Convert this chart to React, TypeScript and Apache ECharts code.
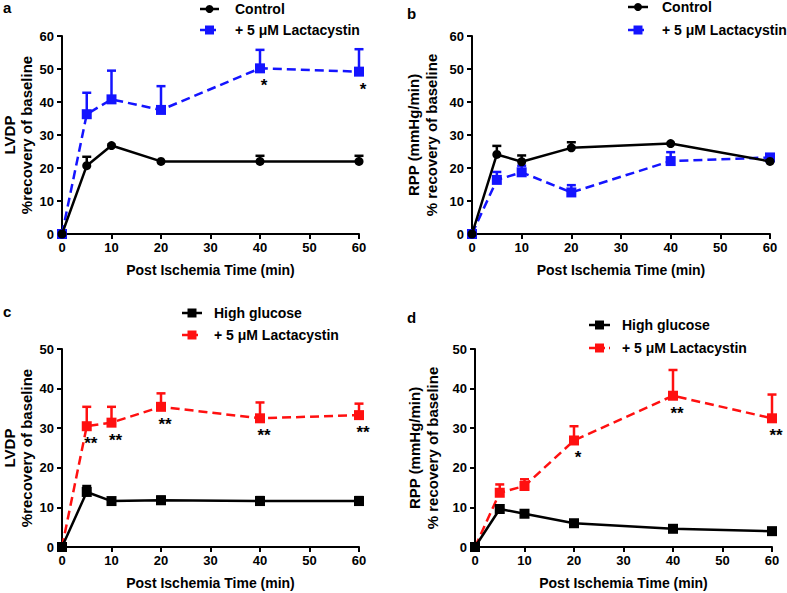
import React, { useEffect, useRef } from "react";
import * as echarts from "echarts";

const times = [0, 5, 10, 20, 40, 60];
const xTicks = [0, 10, 20, 30, 40, 50, 60];

// Panel a (LVDP, control)
const aControl = [0, 20.7, 26.8, 22.0, 22.0, 22.0];
const aControlUpper = [null, 23.4, null, null, 23.7, 23.7];
const aLact = [0, 36.3, 40.8, 37.6, 50.2, 49.2];
const aLactUpper = [null, 42.8, 49.5, 44.8, 55.8, 56.0];
const aSig = ["", "", "", "", "*", "*"];

// Panel b (RPP, control)
const bControl = [0, 24.1, 21.9, 26.1, 27.4, 22.0];
const bControlUpper = [null, 26.7, 23.8, 27.8, null, null];
const bLact = [0, 16.4, 18.7, 12.6, 22.1, 23.2];
const bLactUpper = [null, 18.8, 20.7, 14.8, 24.8, 24.0];
const bSig = ["", "", "", "", "", ""];

// Panel c (LVDP, high glucose)
const cHigh = [0, 13.9, 11.6, 11.8, 11.6, 11.6];
const cHighUpper = [null, 15.4, null, 12.7, 12.6, 12.6];
const cLact = [0, 30.5, 31.4, 35.4, 32.5, 33.3];
const cLactUpper = [null, 35.4, 35.4, 38.8, 36.5, 36.2];
const cSig = ["", "**", "**", "**", "**", "**"];

// Panel d (RPP, high glucose)
const dHigh = [0, 9.6, 8.4, 6.0, 4.6, 4.0];
const dHighUpper = [null, null, null, null, null, null];
const dLact = [0, 13.7, 15.4, 26.9, 38.2, 32.5];
const dLactUpper = [null, 15.8, 17.1, 30.5, 44.7, 38.5];
const dSig = ["", "", "", "*", "**", "**"];

const legendA = ["Control", "+ 5 \u03bcM Lactacystin"];
const legendC = ["High glucose", "+ 5 \u03bcM Lactacystin"];
const xTitle = "Post Ischemia Time (min)";
const yTitleLVDP = ["LVDP", "%recovery of baseline"];
const yTitleRPP = ["RPP (mmHg/min)", "% recovery of baseline"];

const BLUE = "#1414ff";
const RED = "#ff1010";
const BLACK = "#000000";
const FONT = "Liberation Sans, Arial, Helvetica, sans-serif";

type Panel = {
  grid: { left: number; top: number; width: number; height: number };
  yMax: number;
  s1: number[];
  s1Up: (number | null)[];
  s1Symbol: string;
  s1Name: string;
  s2: number[];
  s2Up: (number | null)[];
  s2Color: string;
  s2Name: string;
  sig: string[];
};

const panels: Panel[] = [
  {
    grid: { left: 62, top: 36, width: 297, height: 198 },
    yMax: 60,
    s1: aControl, s1Up: aControlUpper, s1Symbol: "circle", s1Name: legendA[0],
    s2: aLact, s2Up: aLactUpper, s2Color: BLUE, s2Name: legendA[1],
    sig: aSig,
  },
  {
    grid: { left: 472, top: 36, width: 298, height: 198 },
    yMax: 60,
    s1: bControl, s1Up: bControlUpper, s1Symbol: "circle", s1Name: legendA[0],
    s2: bLact, s2Up: bLactUpper, s2Color: BLUE, s2Name: legendA[1],
    sig: bSig,
  },
  {
    grid: { left: 62, top: 349, width: 297, height: 198 },
    yMax: 50,
    s1: cHigh, s1Up: cHighUpper, s1Symbol: "rect", s1Name: legendC[0],
    s2: cLact, s2Up: cLactUpper, s2Color: RED, s2Name: legendC[1],
    sig: cSig,
  },
  {
    grid: { left: 475, top: 349, width: 297, height: 198 },
    yMax: 50,
    s1: dHigh, s1Up: dHighUpper, s1Symbol: "rect", s1Name: legendC[0],
    s2: dLact, s2Up: dLactUpper, s2Color: RED, s2Name: legendC[1],
    sig: dSig,
  },
];

function errorSeries(idx: number, vals: number[], ups: (number | null)[], color: string) {
  const data = times
    .map((t, i) => (ups[i] == null ? null : [t, vals[i], ups[i] as number]))
    .filter((d) => d !== null);
  return {
    type: "custom",
    xAxisIndex: idx,
    yAxisIndex: idx,
    z: 1,
    silent: true,
    clip: false,
    encode: { x: 0, y: [1, 2] },
    data,
    renderItem: (params: any, api: any) => {
      const p = api.coord([api.value(0), api.value(1)]);
      const t = api.coord([api.value(0), api.value(2)]);
      const st = { stroke: color, lineWidth: 2.5 };
      return {
        type: "group",
        children: [
          { type: "line", shape: { x1: p[0], y1: p[1], x2: t[0], y2: t[1] }, style: st },
          { type: "line", shape: { x1: t[0] - 4.5, y1: t[1], x2: t[0] + 4.5, y2: t[1] }, style: st },
        ],
      };
    },
  };
}

function sigSeries(idx: number, vals: number[], sig: string[]) {
  return {
    type: "custom",
    xAxisIndex: idx,
    yAxisIndex: idx,
    z: 5,
    silent: true,
    clip: false,
    data: times.map((t, i) => [t, vals[i]]),
    renderItem: (params: any, api: any) => {
      const label = sig[params.dataIndex];
      if (!label) return null;
      const p = api.coord([api.value(0), api.value(1)]);
      return {
        type: "text",
        x: p[0] + 4,
        y: p[1] + 9,
        style: {
          text: label,
          fill: BLACK,
          font: `bold 17px ${FONT}`,
          align: "center",
          verticalAlign: "top",
        },
      };
    },
  };
}

function legendGraphics(x1: number, x2: number, tx: number, y1: number, y2: number, p: Panel) {
  const mid = (x1 + x2) / 2;
  const els: any[] = [];
  els.push({ type: "line", shape: { x1, y1, x2, y2: y1 }, style: { stroke: BLACK, lineWidth: 2.5 } });
  if (p.s1Symbol === "circle") {
    els.push({ type: "circle", shape: { cx: mid, cy: y1, r: 4 }, style: { fill: BLACK } });
  } else {
    els.push({ type: "rect", shape: { x: mid - 4.5, y: y1 - 4.5, width: 9, height: 9 }, style: { fill: BLACK } });
  }
  els.push({ type: "text", x: tx, y: y1, style: { text: p.s1Name, font: `bold 14px ${FONT}`, fill: BLACK, align: "left", verticalAlign: "middle" } });
  els.push({ type: "line", shape: { x1, y1: y2, x2, y2 }, style: { stroke: p.s2Color, lineWidth: 2.5, lineDash: [6, 4] } });
  els.push({ type: "rect", shape: { x: mid - 4.5, y: y2 - 4.5, width: 9, height: 9 }, style: { fill: p.s2Color } });
  els.push({ type: "text", x: tx, y: y2, style: { text: p.s2Name, font: `bold 14px ${FONT}`, fill: BLACK, align: "left", verticalAlign: "middle" } });
  return els;
}

function yTitle(cx1: number, cx2: number, cy: number, lines: string[]) {
  return [
    { type: "text", x: cx1, y: cy, rotation: Math.PI / 2, style: { text: lines[0], font: `bold 15px ${FONT}`, fill: BLACK, align: "center", verticalAlign: "middle" } },
    { type: "text", x: cx2, y: cy, rotation: Math.PI / 2, style: { text: lines[1], font: `bold 15px ${FONT}`, fill: BLACK, align: "center", verticalAlign: "middle" } },
  ];
}

function panelLabel(x: number, y: number, t: string) {
  return { type: "text", x, y, style: { text: t, font: `bold 15px ${FONT}`, fill: BLACK, align: "left", verticalAlign: "middle" } };
}

export default function App() {
  const ref = useRef<HTMLDivElement>(null);
  useEffect(() => {
    if (!ref.current) return;
    const chart = echarts.init(ref.current, null, { renderer: "svg" });

    const axisLine = { show: true, lineStyle: { color: BLACK, width: 2 } };
    const axisTick = { show: true, length: 5, inside: false, lineStyle: { color: BLACK, width: 2 } };
    const axisLabel = { color: BLACK, fontWeight: "bold", fontSize: 13, fontFamily: FONT };

    const xAxis = panels.map((p, i) => ({
      type: "value",
      gridIndex: i,
      min: xTicks[0],
      max: xTicks[xTicks.length - 1],
      interval: 10,
      axisLine,
      axisTick,
      axisLabel: { ...axisLabel, margin: 7 },
      splitLine: { show: false },
      name: xTitle,
      nameLocation: "middle",
      nameGap: 29,
      nameTextStyle: { color: BLACK, fontWeight: "bold", fontSize: 14, fontFamily: FONT },
    }));
    const yAxis = panels.map((p, i) => ({
      type: "value",
      gridIndex: i,
      min: 0,
      max: p.yMax,
      interval: 10,
      axisLine,
      axisTick,
      axisLabel: { ...axisLabel, margin: 8 },
      splitLine: { show: false },
    }));

    const series: any[] = [];
    panels.forEach((p, i) => {
      series.push(errorSeries(i, p.s1, p.s1Up, BLACK));
      series.push(errorSeries(i, p.s2, p.s2Up, p.s2Color));
      series.push({
        type: "line",
        name: p.s1Name,
        xAxisIndex: i,
        yAxisIndex: i,
        z: 3,
        clip: false,
        data: times.map((t, k) => [t, p.s1[k]]),
        symbol: p.s1Symbol,
        symbolSize: p.s1Symbol === "circle" ? 9 : 10,
        lineStyle: { color: BLACK, width: 2.5 },
        itemStyle: { color: BLACK },
      });
      series.push({
        type: "line",
        name: p.s2Name,
        xAxisIndex: i,
        yAxisIndex: i,
        z: 2,
        clip: false,
        data: times.map((t, k) => [t, p.s2[k]]),
        symbol: "rect",
        symbolSize: 10,
        lineStyle: { color: p.s2Color, width: 2.5, type: [9, 5] },
        itemStyle: { color: p.s2Color },
      });
      series.push(sigSeries(i, p.s2, p.sig));
    });

    const graphic: any[] = [
      ...legendGraphics(200, 219, 235, 9, 30, panels[0]),
      ...legendGraphics(628, 648, 662, 7, 30, panels[1]),
      ...legendGraphics(182, 202, 214, 313, 335, panels[2]),
      ...legendGraphics(589, 610, 622, 325, 348, panels[3]),
      ...yTitle(9, 26, 135, yTitleLVDP),
      ...yTitle(413, 431, 135, yTitleRPP),
      ...yTitle(9, 26, 448, yTitleLVDP),
      ...yTitle(414, 432, 448, yTitleRPP),
      panelLabel(3, 7, "a"),
      panelLabel(407, 13, "b"),
      panelLabel(3, 311, "c"),
      panelLabel(407, 317, "d"),
    ];

    chart.setOption({
      animation: false,
      backgroundColor: "#ffffff",
      grid: panels.map((p) => ({ ...p.grid, containLabel: false })),
      xAxis,
      yAxis,
      series,
      graphic,
    });
    return () => chart.dispose();
  }, []);
  return (
    <div
      ref={ref}
      style={{ position: "absolute", left: 0, top: 0, width: 787, height: 593 }}
    />
  );
}
